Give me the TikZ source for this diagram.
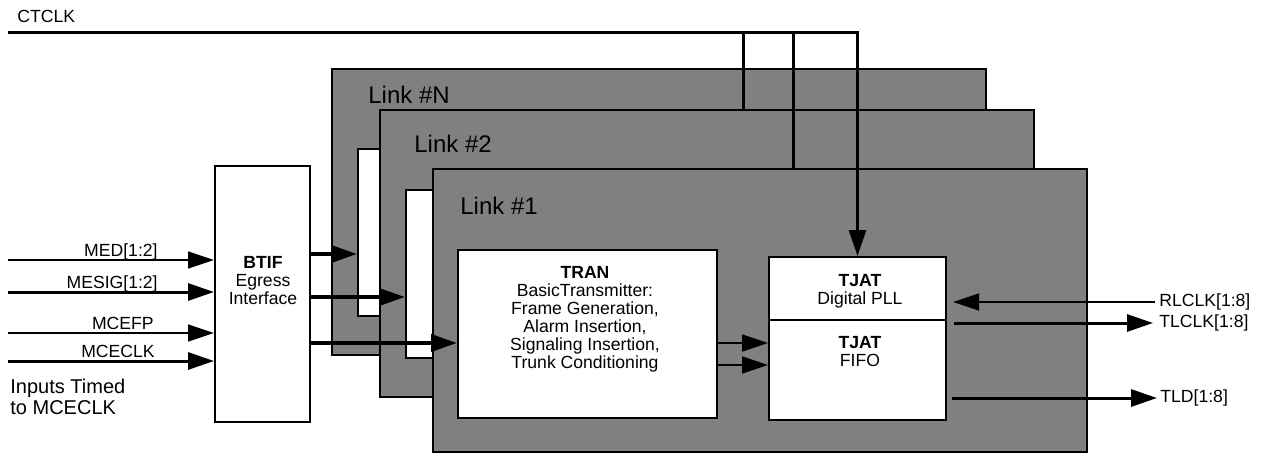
\documentclass[tikz,border=0pt]{standalone}
\usepackage{fontspec}
\setmainfont{Liberation Sans}
\usetikzlibrary{arrows.meta,fit}
\definecolor{linkgray}{RGB}{128,128,128}
\begin{document}
\begin{tikzpicture}[x=0.5pt,y=-0.5pt,
  box/.style={draw=black,line width=1pt,fill=white,inner sep=0pt},
  linkbox/.style={draw=black,line width=1pt,fill=linkgray,inner sep=0pt},
  tip/.style={-{Triangle[length=13pt,width=8.5pt]}},
  thinwire/.style={line width=0.65pt},
  wire/.style={line width=0.85pt},
  thickwire/.style={line width=1.5pt},
  bus/.style={line width=2pt},
  lbl/.style={font=\fontsize{8.8}{9}\selectfont,inner sep=0pt},
  blocktxt/.style={font=\fontsize{8.8}{9}\selectfont,inner sep=0pt,align=center},
  linklbl/.style={font=\fontsize{12}{14}\selectfont,inner sep=0pt,anchor=base west},
]
\useasboundingbox (0,0) rectangle (1270,455);

% stacked links
\node[linkbox, fit={(332,69) (986,355)}] (linkN) {};
\node[box, fit={(358,149) (617,316)}] (linkNin) {};
\node[linklbl] (linkNlbl) at (368,103) {Link \#N};
\node[linkbox, fit={(380,110) (1034,397)}] (link2) {};
\node[box, fit={(406,190) (665,358)}] (link2in) {};
\node[linklbl] (link2lbl) at (414,152) {Link \#2};
\node[linkbox, fit={(433,169) (1087,452)}] (link1) {};
\node[linklbl] (link1lbl) at (460,214) {Link \#1};

% blocks
\node[box, fit={(215,166) (310,422)}] (btif) {};
\node[blocktxt] (btiftxt) at (263,281) {\textbf{BTIF}\\Egress\\Interface};
\node[box, fit={(458,250) (717,418)}] (tran) {};
\node[blocktxt] (trantxt) at (585,319) {\textbf{TRAN}\\BasicTransmitter:\\Frame Generation,\\Alarm Insertion,\\Signaling Insertion,\\Trunk Conditioning};
\node[box, fit={(769,257) (946,420)}] (tjat) {};
\coordinate (div) at (0,320);
\draw[line width=1pt] (tjat.west |- div) -- (tjat.east |- div);
\node[blocktxt] (pll) at (860,291) {\textbf{TJAT}\\Digital PLL};
\node[blocktxt] (fifo) at (860,352) {\textbf{TJAT}\\FIFO};

% CTCLK
\node[lbl, anchor=base west] (ctlbl) at (17,23) {CTCLK};
\coordinate (ct) at (8,32);
\coordinate (b1) at (743,32);
\coordinate (b2) at (793,32);
\draw[thickwire, tip] (ct) -| (tjat.north);
\draw[thickwire] (b1) -- (b1 |- link2.north);
\draw[thickwire] (b2) -- (b2 |- link1.north);

% inputs
\coordinate (med) at (8,260);
\coordinate (mesig) at (8,292);
\coordinate (mcefp) at (8,333);
\coordinate (mceclk) at (8,361);
\draw[thinwire, tip] (med) -- (med -| btif.west);
\draw[thickwire, tip] (mesig) -- (mesig -| btif.west);
\draw[thinwire, tip] (mcefp) -- (mcefp -| btif.west);
\draw[thickwire, tip] (mceclk) -- (mceclk -| btif.west);
\node[lbl, anchor=base east] (medl) at (158,256) {MED[1:2]};
\node[lbl, anchor=base east] (mesigl) at (158,288) {MESIG[1:2]};
\node[lbl, anchor=base east] (mcefpl) at (154,329) {MCEFP};
\node[lbl, anchor=base east] (mceclkl) at (155,357) {MCECLK};
\node[font=\fontsize{10}{10.5}\selectfont, inner sep=0pt, align=left, anchor=west] (timed) at (10,397) {Inputs Timed\\to MCECLK};

% BTIF outputs
\coordinate (o1) at (0,254);
\coordinate (o2) at (0,297);
\coordinate (o3) at (0,343);
\draw[bus, tip] (btif.east |- o1) -- (linkNin.west |- o1);
\draw[bus, tip] (btif.east |- o2) -- (link2in.west |- o2);
\draw[bus, tip] (btif.east |- o3) -- (tran.west |- o3);

% TRAN to TJAT
\coordinate (t1) at (0,343);
\coordinate (t2) at (0,365);
\draw[wire, tip] (tran.east |- t1) -- (tjat.west |- t1);
\draw[wire, tip] (tran.east |- t2) -- (tjat.west |- t2);

% outputs
\coordinate (rl) at (1155,302);
\coordinate (tlc) at (1153,323);
\coordinate (tld) at (1157,398);
\draw[thinwire, tip] (rl) -- ([xshift=3pt]tjat.east |- rl);
\draw[thickwire, tip] ([xshift=3.5pt]tjat.east |- tlc) -- (tlc);
\draw[thickwire, tip] ([xshift=2.5pt]tjat.east |- tld) -- (tld);
\node[lbl, anchor=west] (rll) at (1159,302) {RLCLK[1:8]};
\node[lbl, anchor=west] (tlcl) at (1159,323) {TLCLK[1:8]};
\node[lbl, anchor=west] (tldl) at (1160,398) {TLD[1:8]};
\end{tikzpicture}
\end{document}
